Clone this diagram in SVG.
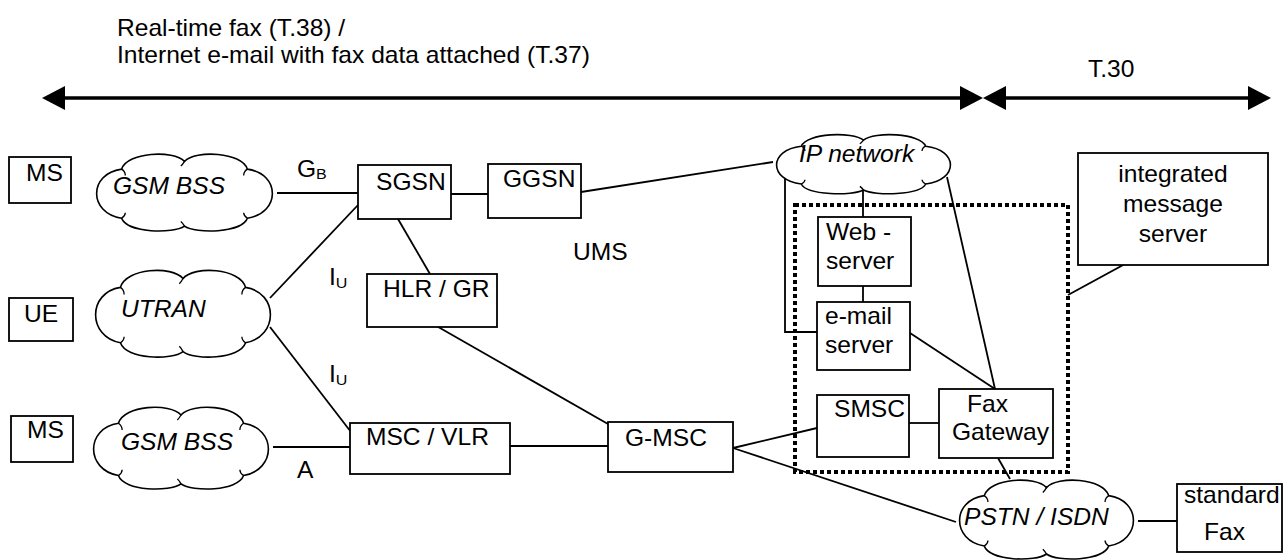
<svg xmlns="http://www.w3.org/2000/svg" xmlns:xlink="http://www.w3.org/1999/xlink" width="1284" height="560" viewBox="0 0 1284 560">
<style>
text{font-family:"Liberation Sans",Arial,sans-serif;font-size:23px;fill:#000;transform-box:fill-box;transform-origin:0 0;transform:scaleX(1.07)}
text.mid{transform-origin:50% 0}
.it{font-style:italic}
.box{fill:#fff;stroke:#000;stroke-width:1.8}
.cl{fill:#fff;stroke:#000;stroke-width:1.6;vector-effect:non-scaling-stroke}
.hk{fill:none;stroke:#000;stroke-width:1.3;vector-effect:non-scaling-stroke}
.ln{fill:none;stroke:#000;stroke-width:1.8}
.thick{stroke:#000;stroke-width:3.6;fill:none}
.dot{fill:none;stroke:#000;stroke-width:4;stroke-dasharray:4 3}
.sub{font-size:15px}
</style>
<defs>
<marker id="ah" markerUnits="userSpaceOnUse" markerWidth="24" markerHeight="26" refX="0" refY="12" orient="auto-start-reverse" viewBox="0 0 24 24" overflow="visible">
<path d="M0,0 L23,12 L0,24 Z" fill="#000"/>
</marker>
<g id="cloud">
<path class="cl" d="M16,22 C19,0 44,-3 50,12 C56,-3 81,0 84,22 C102,28 102,78 84,85 C81,104 56,105 50,95 C44,105 19,104 16,85 C-2,78 -2,28 16,22 Z"/>
<path class="hk" d="M16,22 q2,3 2,8 M50,12 q-1,4 -2,6 M84,22 q-2,3 -2,8 M84,85 q-2,-3 -2,-7 M50,95 q-1,-4 -2,-6 M16,85 q2,-3 2,-7"/>
</g>
</defs>

<g id="scope-arrows">
<line class="thick" x1="65" y1="98" x2="960" y2="98" marker-start="url(#ah)" marker-end="url(#ah)"/>
<line class="thick" x1="1006" y1="98" x2="1248" y2="98" marker-start="url(#ah)" marker-end="url(#ah)"/>
<text x="117" y="36">Real-time fax (T.38) /</text>
<text x="117" y="63">Internet e-mail with fax data attached (T.37)</text>
<text x="1088" y="77">T.30</text>
</g>

<g id="connectors">
<line class="ln" x1="277" y1="193" x2="358" y2="193"/>
<line class="ln" x1="451" y1="194" x2="488" y2="194"/>
<line class="ln" x1="581" y1="192" x2="773" y2="162"/>
<line class="ln" x1="398" y1="219" x2="430" y2="274"/>
<line class="ln" x1="270" y1="298" x2="358" y2="205"/>
<line class="ln" x1="270" y1="327" x2="351" y2="432"/>
<line class="ln" x1="273" y1="447" x2="350" y2="447"/>
<line class="ln" x1="510" y1="446" x2="608" y2="446"/>
<line class="ln" x1="433" y1="324" x2="608" y2="424"/>
<line class="ln" x1="733" y1="448" x2="817" y2="428"/>
<line class="ln" x1="733" y1="448" x2="956" y2="522"/>
<line class="ln" x1="909" y1="423" x2="939" y2="423"/>
<line class="ln" x1="910" y1="333" x2="995" y2="389"/>
<line class="ln" x1="947" y1="177" x2="995" y2="389"/>
<line class="ln" x1="863" y1="190" x2="863" y2="217"/>
<line class="ln" x1="863" y1="286" x2="863" y2="302"/>
<polyline class="ln" points="785,178 785,332 817,332"/>
<line class="ln" x1="998" y1="458" x2="1010" y2="479"/>
<line class="ln" x1="1138" y1="521" x2="1177" y2="521"/>
<line class="ln" x1="1147" y1="252" x2="1068" y2="295"/>
</g>

<g id="ums-boundary">
<rect class="dot" x="795" y="205" width="273" height="267"/>
<text x="573" y="260">UMS</text>
</g>

<g id="ms1"><rect class="box" x="9" y="157" width="62" height="46"/><text x="26" y="181">MS</text></g>
<g id="gsm-bss1"><use xlink:href="#cloud" transform="translate(92,152) scale(1.85,0.78)"/><text class="it" x="113" y="194">GSM BSS</text></g>
<g id="ue"><rect class="box" x="9" y="298" width="64" height="43"/><text x="24" y="322">UE</text></g>
<g id="utran"><use xlink:href="#cloud" transform="translate(91,268) scale(1.84,0.88)"/><text class="it" x="121" y="317">UTRAN</text></g>
<g id="ms2"><rect class="box" x="11" y="416" width="62" height="46"/><text x="27" y="438">MS</text></g>
<g id="gsm-bss2"><use xlink:href="#cloud" transform="translate(89,405) scale(1.84,0.83)"/><text class="it" x="121" y="450">GSM BSS</text></g>

<g id="labels">
<text x="297" y="177">G<tspan class="sub" dy="2">B</tspan></text>
<text x="329" y="285">I<tspan class="sub" dy="3">U</tspan></text>
<text x="329" y="382">I<tspan class="sub" dy="3">U</tspan></text>
<text x="297" y="478">A</text>
</g>

<g id="sgsn"><rect class="box" x="358" y="165" width="93" height="54"/><text x="376" y="190">SGSN</text></g>
<g id="ggsn"><rect class="box" x="488" y="164" width="93" height="54"/><text x="503" y="187">GGSN</text></g>
<g id="hlr"><rect class="box" x="367" y="274" width="130" height="53"/><text x="383" y="297">HLR / GR</text></g>
<g id="msc-vlr"><rect class="box" x="350" y="423" width="160" height="51"/><text x="366" y="445">MSC / VLR</text></g>
<g id="g-msc"><rect class="box" x="608" y="422" width="125" height="50"/><text x="625" y="446">G-MSC</text></g>

<g id="ip-network"><use xlink:href="#cloud" transform="translate(772,133) scale(1.83,0.6)"/><text class="it" x="799" y="162">IP network</text></g>
<g id="web-server"><rect class="box" x="818" y="217" width="93" height="69"/><text x="826" y="240">Web -</text><text x="826" y="269">server</text></g>
<g id="email-server"><rect class="box" x="817" y="302" width="93" height="68"/><text x="825" y="324">e-mail</text><text x="825" y="353">server</text></g>
<g id="smsc"><rect class="box" x="817" y="395" width="92" height="62"/><text x="834" y="417">SMSC</text></g>
<g id="fax-gateway"><rect class="box" x="939" y="389" width="114" height="69"/><text x="967" y="412">Fax</text><text x="952" y="440">Gateway</text></g>
<g id="integrated-message-server"><rect class="box" x="1078" y="153" width="190" height="112"/>
<text class="mid" x="1173" y="182" text-anchor="middle">integrated</text><text class="mid" x="1173" y="212" text-anchor="middle">message</text><text class="mid" x="1173" y="242" text-anchor="middle">server</text></g>
<g id="pstn-isdn"><use xlink:href="#cloud" transform="translate(955,478) scale(1.83,0.8)"/><text class="it" x="964" y="525">PSTN / ISDN</text></g>
<g id="standard-fax"><rect class="box" x="1177" y="484" width="105" height="68"/><text x="1184" y="503">standard</text><text x="1204" y="540">Fax</text></g>
</svg>
